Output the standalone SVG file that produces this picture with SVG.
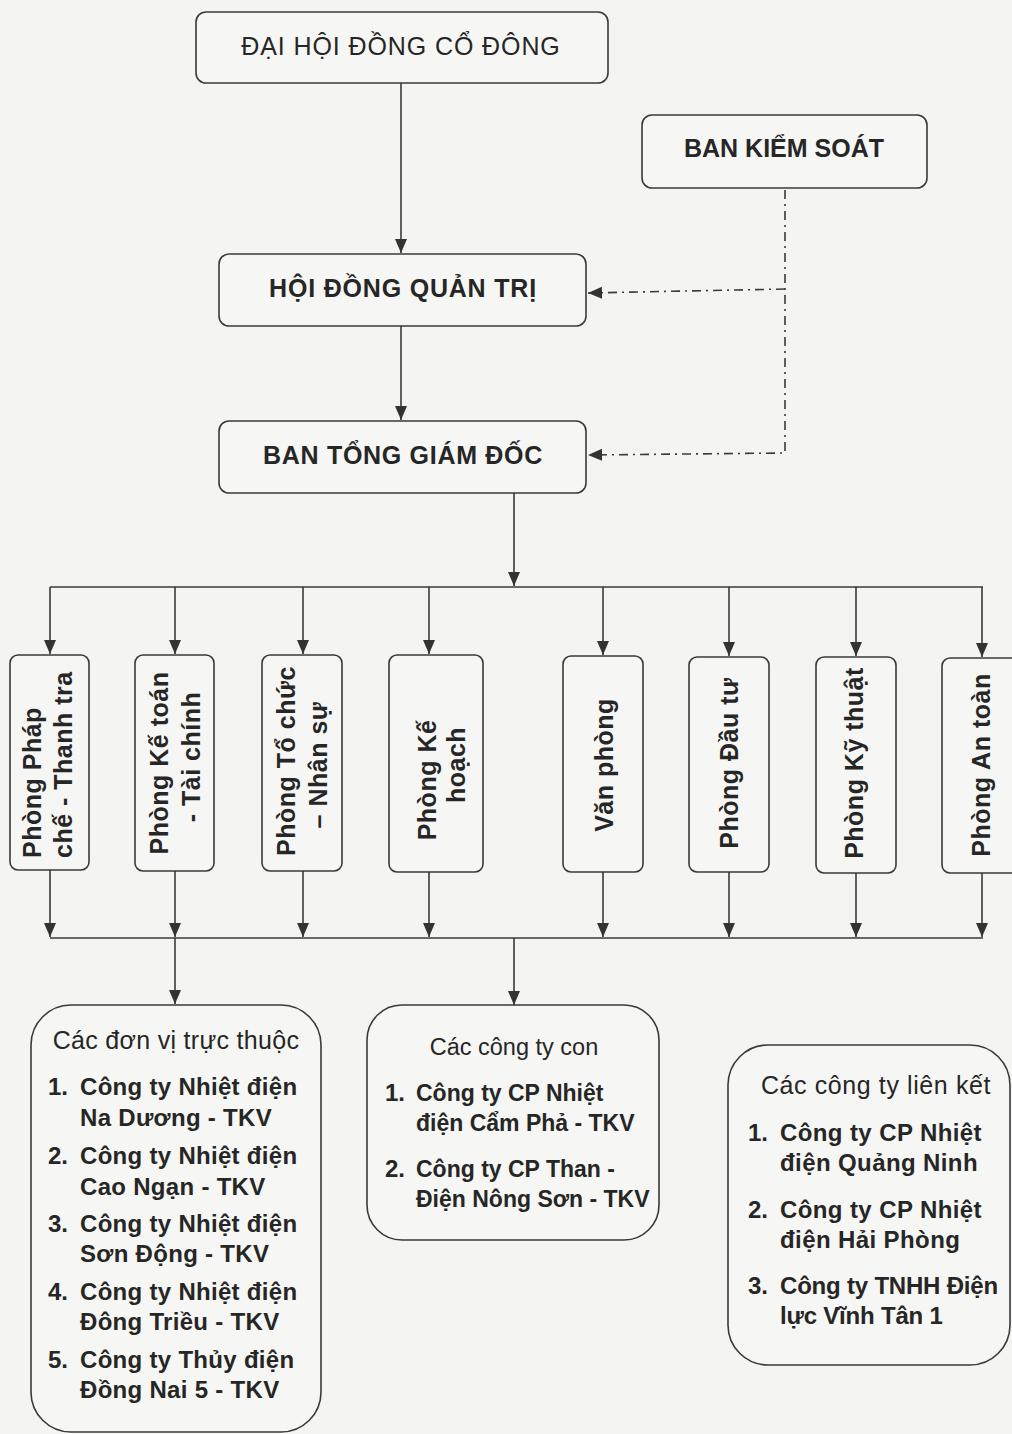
<svg xmlns="http://www.w3.org/2000/svg" width="1012" height="1434" viewBox="0 0 1012 1434">
  <defs>
    <style>
      .bg { fill: #f4f4f2; }
      .box { fill: #f6f6f4; stroke: #3a3a3a; stroke-width: 1.6; }
      .ln { fill: none; stroke: #3a3a3a; stroke-width: 1.6; }
      .dd { fill: none; stroke: #3a3a3a; stroke-width: 1.6; stroke-dasharray: 9 5 2 5; }
      text { font-family: "Liberation Sans", Arial, sans-serif; fill: #262626; }
      .top { font-size: 25px; font-weight: bold; text-anchor: middle; letter-spacing: 0.8px; }
      .vt { font-size: 25px; font-weight: bold; letter-spacing: 0.5px; }
      .mid { text-anchor: middle; }
      .hd { font-size: 25px; text-anchor: middle; }
      .it { font-size: 24px; font-weight: bold; }
    </style>
    <marker id="ah" viewBox="0 0 14 14" refX="14" refY="7" markerWidth="14" markerHeight="14" markerUnits="userSpaceOnUse" orient="auto">
      <path d="M0,1 L14,7 L0,13 Z" fill="#333"/>
    </marker>
  </defs>
  <rect class="bg" x="0" y="0" width="1012" height="1434"/>

  <g id="connectors">
    <line class="ln" x1="401" y1="83" x2="401" y2="253" marker-end="url(#ah)"/>
    <line class="ln" x1="401" y1="326" x2="401" y2="420" marker-end="url(#ah)"/>
    <line class="ln" x1="514" y1="493" x2="514" y2="586" marker-end="url(#ah)"/>
    <polyline class="dd" points="785,190 785,453 588,455" marker-end="url(#ah)"/>
    <line class="dd" x1="785" y1="289" x2="588" y2="293" marker-end="url(#ah)"/>
    <line class="ln" x1="50" y1="587" x2="983" y2="587"/>
    <line class="ln" x1="50" y1="587" x2="50" y2="654" marker-end="url(#ah)"/>
    <line class="ln" x1="175" y1="587" x2="175" y2="654" marker-end="url(#ah)"/>
    <line class="ln" x1="303" y1="587" x2="303" y2="654" marker-end="url(#ah)"/>
    <line class="ln" x1="429" y1="587" x2="429" y2="654" marker-end="url(#ah)"/>
    <line class="ln" x1="603" y1="587" x2="603" y2="655" marker-end="url(#ah)"/>
    <line class="ln" x1="729" y1="587" x2="729" y2="656" marker-end="url(#ah)"/>
    <line class="ln" x1="856" y1="587" x2="856" y2="656" marker-end="url(#ah)"/>
    <line class="ln" x1="982" y1="587" x2="982" y2="657" marker-end="url(#ah)"/>
    <line class="ln" x1="50" y1="870" x2="50" y2="937" marker-end="url(#ah)"/>
    <line class="ln" x1="175" y1="871" x2="175" y2="937" marker-end="url(#ah)"/>
    <line class="ln" x1="303" y1="871" x2="303" y2="937" marker-end="url(#ah)"/>
    <line class="ln" x1="429" y1="872" x2="429" y2="937" marker-end="url(#ah)"/>
    <line class="ln" x1="603" y1="872" x2="603" y2="937" marker-end="url(#ah)"/>
    <line class="ln" x1="729" y1="872" x2="729" y2="937" marker-end="url(#ah)"/>
    <line class="ln" x1="856" y1="873" x2="856" y2="937" marker-end="url(#ah)"/>
    <line class="ln" x1="982" y1="873" x2="982" y2="937" marker-end="url(#ah)"/>
    <line class="ln" x1="50" y1="938" x2="983" y2="938"/>
    <line class="ln" x1="175" y1="938" x2="175" y2="1004" marker-end="url(#ah)"/>
    <line class="ln" x1="514" y1="938" x2="514" y2="1005" marker-end="url(#ah)"/>
  </g>

  <g id="dhdcd">
    <rect class="box" x="196" y="12" width="412" height="71" rx="10"/>
    <text class="top" x="401" y="55" style="font-weight:normal;letter-spacing:0.9px">ĐẠI HỘI ĐỒNG CỔ ĐÔNG</text>
  </g>
  <g id="bks">
    <rect class="box" x="642" y="115" width="285" height="73" rx="10"/>
    <text class="top" x="784" y="157" style="letter-spacing:0px">BAN KIỂM SOÁT</text>
  </g>
  <g id="hdqt">
    <rect class="box" x="219" y="254" width="367" height="72" rx="10"/>
    <text class="top" x="403" y="297">HỘI ĐỒNG QUẢN TRỊ</text>
  </g>
  <g id="btgd">
    <rect class="box" x="219" y="421" width="367" height="72" rx="10"/>
    <text class="top" x="403" y="464" style="letter-spacing:0.7px">BAN TỔNG GIÁM ĐỐC</text>
  </g>

  <g id="p1">
    <rect class="box" x="10" y="655" width="79" height="215" rx="8"/>
    <text class="vt" transform="translate(41,858) rotate(-90)">Phòng Pháp</text>
    <text class="vt" transform="translate(72,858) rotate(-90)">chế - Thanh tra</text>
  </g>
  <g id="p2">
    <rect class="box" x="135" y="655" width="79" height="216" rx="8"/>
    <text class="vt mid" transform="translate(168,763) rotate(-90)">Phòng Kế toán</text>
    <text class="vt mid" transform="translate(200,757) rotate(-90)">- Tài chính</text>
  </g>
  <g id="p3">
    <rect class="box" x="262" y="655" width="80" height="216" rx="8"/>
    <text class="vt mid" transform="translate(295,761) rotate(-90)">Phòng Tổ chức</text>
    <text class="vt mid" transform="translate(327,765) rotate(-90)">– Nhân sự</text>
  </g>
  <g id="p4">
    <rect class="box" x="389" y="655" width="94" height="217" rx="8"/>
    <text class="vt mid" transform="translate(436,780) rotate(-90)">Phòng Kế</text>
    <text class="vt mid" transform="translate(465,765) rotate(-90)">hoạch</text>
  </g>
  <g id="p5">
    <rect class="box" x="563" y="656" width="80" height="216" rx="8"/>
    <text class="vt mid" transform="translate(613,765) rotate(-90)">Văn phòng</text>
  </g>
  <g id="p6">
    <rect class="box" x="689" y="657" width="80" height="215" rx="8"/>
    <text class="vt mid" transform="translate(738,763) rotate(-90)">Phòng Đầu tư</text>
  </g>
  <g id="p7">
    <rect class="box" x="816" y="657" width="80" height="216" rx="8"/>
    <text class="vt mid" transform="translate(863,763) rotate(-90)">Phòng Kỹ thuật</text>
  </g>
  <g id="p8">
    <rect class="box" x="942" y="658" width="100" height="215" rx="8"/>
    <text class="vt mid" transform="translate(990,765) rotate(-90)">Phòng An toàn</text>
  </g>

  <g id="tructhuoc">
    <rect class="box" x="31" y="1005" width="290" height="427" rx="40"/>
    <text class="hd" x="176" y="1049" style="letter-spacing:0.3px">Các đơn vị trực thuộc</text>
    <text class="it" x="48" y="1095">1.</text>
    <text class="it" x="80" y="1095" style="letter-spacing:0.3px">Công ty Nhiệt điện</text>
    <text class="it" x="80" y="1126" style="letter-spacing:0.3px">Na Dương - TKV</text>
    <text class="it" x="48" y="1164">2.</text>
    <text class="it" x="80" y="1164" style="letter-spacing:0.3px">Công ty Nhiệt điện</text>
    <text class="it" x="80" y="1195" style="letter-spacing:0.3px">Cao Ngạn - TKV</text>
    <text class="it" x="48" y="1232">3.</text>
    <text class="it" x="80" y="1232" style="letter-spacing:0.3px">Công ty Nhiệt điện</text>
    <text class="it" x="80" y="1262" style="letter-spacing:0.3px">Sơn Động - TKV</text>
    <text class="it" x="48" y="1300">4.</text>
    <text class="it" x="80" y="1300" style="letter-spacing:0.3px">Công ty Nhiệt điện</text>
    <text class="it" x="80" y="1330" style="letter-spacing:0.3px">Đông Triều - TKV</text>
    <text class="it" x="48" y="1368">5.</text>
    <text class="it" x="80" y="1368" style="letter-spacing:0.3px">Công ty Thủy điện</text>
    <text class="it" x="80" y="1398" style="letter-spacing:0.3px">Đồng Nai 5 - TKV</text>
  </g>

  <g id="congtycon">
    <rect class="box" x="367" y="1005" width="292" height="235" rx="35"/>
    <text class="hd" x="514" y="1055" style="font-size:23.5px">Các công ty con</text>
    <text class="it" x="385" y="1101">1.</text>
    <text class="it" x="416" y="1101" style="font-size:23px">Công ty CP Nhiệt</text>
    <text class="it" x="416" y="1131" style="font-size:23px">điện Cẩm Phả - TKV</text>
    <text class="it" x="385" y="1177">2.</text>
    <text class="it" x="416" y="1177" style="font-size:23px">Công ty CP Than -</text>
    <text class="it" x="416" y="1207" style="font-size:23px">Điện Nông Sơn - TKV</text>
  </g>

  <g id="lienket">
    <rect class="box" x="728" y="1045" width="282" height="320" rx="40"/>
    <text class="hd" x="876" y="1094" style="letter-spacing:0.6px">Các công ty liên kết</text>
    <text class="it" x="748" y="1141">1.</text>
    <text class="it" x="780" y="1141" style="letter-spacing:0.4px">Công ty CP Nhiệt</text>
    <text class="it" x="780" y="1171" style="letter-spacing:0.4px">điện Quảng Ninh</text>
    <text class="it" x="748" y="1218">2.</text>
    <text class="it" x="780" y="1218" style="letter-spacing:0.4px">Công ty CP Nhiệt</text>
    <text class="it" x="780" y="1248" style="letter-spacing:0.4px">điện Hải Phòng</text>
    <text class="it" x="748" y="1294">3.</text>
    <text class="it" x="780" y="1294" style="letter-spacing:-0.2px">Công ty TNHH Điện</text>
    <text class="it" x="780" y="1324" style="letter-spacing:-0.2px">lực Vĩnh Tân 1</text>
  </g>
</svg>
